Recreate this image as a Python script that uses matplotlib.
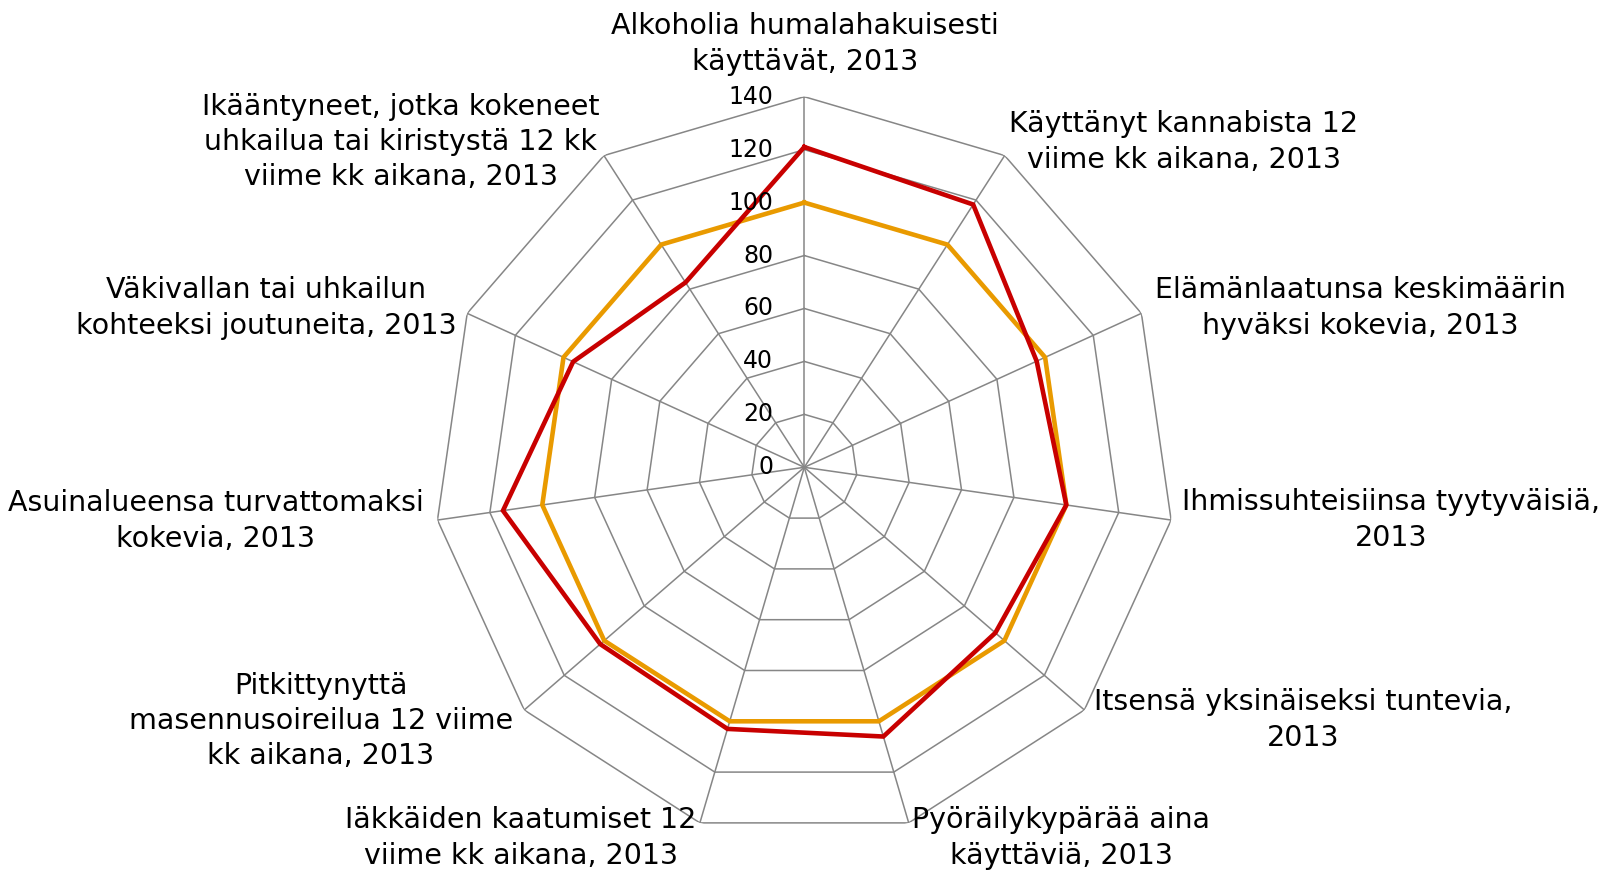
import numpy as np
import matplotlib.pyplot as plt

# categories (clockwise from top)
categories = [
    "Alkoholia humalahakuisesti\nkäyttävät, 2013",
    "Käyttänyt kannabista 12\nviime kk aikana, 2013",
    "Elämänlaatunsa keskimäärin\nhyväksi kokevia, 2013",
    "Ihmissuhteisiinsa tyytyväisiä,\n2013",
    "Itsensä yksinäiseksi tuntevia,\n2013",
    "Pyöräilykypärää aina\nkäyttäviä, 2013",
    "Iäkkäiden kaatumiset 12\nviime kk aikana, 2013",
    "Pitkittynyttä\nmasennusoireilua 12 viime\nkk aikana, 2013",
    "Asuinalueensa turvattomaksi\nkokevia, 2013",
    "Väkivallan tai uhkailun\nkohteeksi joutuneita, 2013",
    "Ikääntyneet, jotka kokeneet\nuhkailua tai kiristystä 12 kk\nviime kk aikana, 2013",
]
region = [121, 118, 96.5, 100, 95.5, 106, 103, 102, 115, 96, 83]
country = [100, 100, 100, 100, 100, 100, 100, 100, 100, 100, 100]
ticks = [0, 20, 40, 60, 80, 100, 120, 140]

# label centres in pixels (x from left, y from top)
label_px = [(805, 44), (1184, 142), (1360, 308), (1391, 520), (1303, 720),
            (1061, 838), (521, 838), (321, 721), (216, 521), (266, 308), (401, 142)]

W, H = 1600, 873
cx, cy, R = 804.3, 467.3, 370.6

fig = plt.figure(figsize=(16, 8.73), dpi=100)
ax = fig.add_axes([(cx - R) / W, (H - cy - R) / H, 2 * R / W, 2 * R / H],
                  projection="polar")
ax.set_theta_zero_location("N")
ax.set_theta_direction(-1)
ax.set_ylim(0, 140)
ax.grid(False)
ax.spines["polar"].set_visible(False)
ax.set_xticks([])
ax.set_yticks([])
ax.patch.set_visible(False)

n = len(categories)
theta = np.arange(n) * 2 * np.pi / n
theta_c = np.append(theta, theta[0])

grid_color = "#868686"
# polygon rings
for t in ticks[1:]:
    ax.plot(theta_c, [t] * (n + 1), color=grid_color, lw=1.1, zorder=1)
# spokes
for th in theta:
    ax.plot([th, th], [0, 140], color=grid_color, lw=1.1, zorder=1)

ax.plot(theta_c, country + country[:1], color="#E99A00", lw=3.3, zorder=3,
        solid_joinstyle="miter")
ax.plot(theta_c, region + region[:1], color="#C80000", lw=3.3, zorder=4,
        solid_joinstyle="miter")

# radial tick labels left of the top spoke
for t in ticks:
    y = cy - R * t / 140
    fig.text((cx - 31) / W, 1 - y / H, str(t), ha="right", va="center",
             fontsize=17, family="DejaVu Sans", color="black")

for lab, (x, y) in zip(categories, label_px):
    fig.text(x / W, 1 - y / H, lab, ha="center", va="center", fontsize=20.5,
             family="DejaVu Sans", linespacing=1.32, color="black")

fig.savefig("out.png", dpi=100)
